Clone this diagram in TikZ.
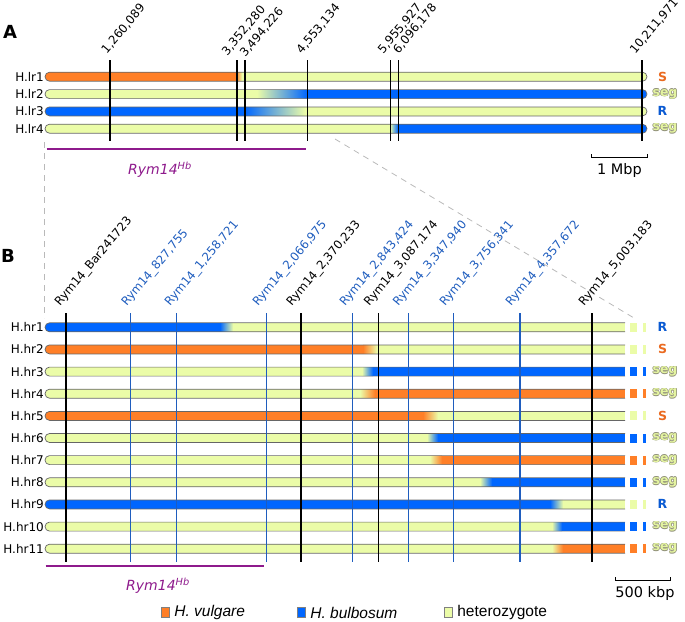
\documentclass[tikz,border=0pt]{standalone}
\usepackage{fontspec}
\setmainfont{DejaVu Sans}
\newfontfamily\legendfont{Liberation Sans}
\usetikzlibrary{positioning}

\definecolor{vulg}{HTML}{FF7F27}
\definecolor{bulb}{HTML}{0066FF}
\definecolor{het}{HTML}{EBFCA8}
\definecolor{mrkblue}{HTML}{1F5DBE}
\definecolor{rympurple}{HTML}{8E1A8C}
\definecolor{seggray}{HTML}{8F8F78}
\definecolor{segfill}{HTML}{E4F4A0}
\definecolor{vulgtext}{HTML}{EA6A20}
\definecolor{bulbtext}{HTML}{0A5AD2}

% outlined "seg" label
\newcommand{\seglabel}{\rlap{\color{seggray}\kern0.6pt seg}\rlap{\color{seggray}\kern-0.6pt seg}\rlap{\color{seggray}\raisebox{0.6pt}{seg}}\rlap{\color{seggray}\raisebox{-0.6pt}{seg}}{\color{segfill}seg}}
\newcommand{\rymHb}{\textit{Rym14\textsuperscript{Hb}}}

\begin{document}
\begin{tikzpicture}[x=1pt,y=-1pt]

    % let's define some key values
    \def\rad{4.5}
    \def\xa{45}
    \def\xeA{647}
    \def\xeB{625}
    \def\xres{662.5}

    % Styles
    \tikzstyle{barline}=[draw=black!60, line width=0.7pt]
    \tikzstyle{rowlbl}=[anchor=east, inner sep=1pt, font=\fontsize{12}{14}\selectfont]
    \tikzstyle{poslbl}=[anchor=west, rotate=50, inner sep=0pt, font=\fontsize{11.8}{14}\selectfont]
    \tikzstyle{resS}=[font=\fontsize{12.5}{14}\selectfont\bfseries, text=vulgtext]
    \tikzstyle{resR}=[font=\fontsize{12.5}{14}\selectfont\bfseries, text=bulbtext]
    \tikzstyle{resseg}=[font=\fontsize{12.5}{14}\selectfont\bfseries, xshift=2.5pt]
    \tikzstyle{zoomline}=[gray!55, dashed, dash pattern=on 6pt off 5pt, line width=0.8pt]
    \tikzstyle{rymline}=[rympurple, line width=1.3pt]
    \tikzstyle{rymlbl}=[text=rympurple, font=\fontsize{14}{16}\selectfont]
    \tikzstyle{scalebar}=[black, line width=1pt]
    \tikzstyle{scalelbl}=[font=\fontsize{14.5}{16}\selectfont]
    \tikzstyle{legbox}=[draw=gray, line width=0.8pt, minimum width=8.5pt, minimum height=10pt, inner sep=0pt]
    \tikzstyle{legtxt}=[inner sep=0pt, font=\legendfont\fontsize{15.5}{17}\selectfont]

    \useasboundingbox (0,0) rectangle (685,621);

    % panel letters
    \node (panelA) at (10,31.5) {\fontsize{18}{20}\selectfont\bfseries A};
    \node (panelB) at (8,256) {\fontsize{18}{20}\selectfont\bfseries B};

    % zoom lines from A to B
    \coordinate (zl1) at (44,142);
    \coordinate (zl2) at (44,318);
    \coordinate (zr1) at (335,139);
    \coordinate (zr2) at (634,318);
    \draw[zoomline] (zl1) -- (zl2);
    \draw[zoomline] (zr1) -- (zr2);

    % panel A bars
    \foreach \yy/\cl/\ta/\tb/\cr/\nm/\rs/\rt in {
        76.7/vulg/236/242/het/lr1/resS/S,
        94.1/het/257/307/bulb/lr2/resseg/\seglabel,
        111.4/bulb/245/305/het/lr3/resR/R,
        128.7/het/390/398/bulb/lr4/resseg/\seglabel}
    {
        \begin{scope}
            \clip[rounded corners=\rad pt] (\xa,\yy-\rad) rectangle (\xeA,\yy+\rad);
            \fill[\cl] (\xa,\yy-\rad) rectangle (\ta,\yy+\rad);
            \shade[left color=\cl, right color=\cr] (\ta,\yy-\rad) rectangle (\tb,\yy+\rad);
            \fill[\cr] (\tb,\yy-\rad) rectangle (\xeA,\yy+\rad);
        \end{scope}
        \draw[barline, rounded corners=\rad pt] (\xa,\yy-\rad) rectangle (\xeA,\yy+\rad);
        \node[rowlbl] (\nm) at (\xa,\yy) {H.\nm};
        \node[\rs] (res\nm) at (\xres,\yy) {\rt};
    }

    % panel A markers (line x / label anchor)
    \foreach \x/\lx/\ly/\lbl [count=\i] in {110/104/52/{1,260,089},
        236.7/224.3/53.8/{3,352,280}, 245/242.3/55.5/{3,494,226},
        307.5/299/52/{4,553,134}, 390.3/380.3/52/{5,955,927},
        398.3/395.6/51.8/{6,096,178}, 641.7/632.3/52.5/{10,211,971}}
    {
        \draw[black, line width=1.6pt] (\x,60) -- (\x,140.7);
        \node[poslbl] (pa\i) at (\lx,\ly) {\lbl};
    }

    % Rym14 interval in A
    \draw[rymline] (46.7,149) -- (305.7,149);
    \node[rymlbl] (rymA) at (160,170) {\rymHb};

    % scale bar A
    \draw[scalebar] (591,154.2) -- (591,157.7) -- (647,157.7) -- (647,154.2);
    \node[scalelbl] (scaleA) at (619.5,170) {1 Mbp};

    % panel B bars
    \foreach \yy/\cl/\ta/\tb/\cr/\nm/\rs/\rt in {
        327.3/bulb/220/233/het/hr1/resR/R,
        349.4/vulg/363/377/het/hr2/resS/S,
        371.6/het/362/373/bulb/hr3/resseg/\seglabel,
        393.7/het/360/375/vulg/hr4/resseg/\seglabel,
        415.9/vulg/423/438/het/hr5/resS/S,
        438.0/het/427/438/bulb/hr6/resseg/\seglabel,
        460.1/het/430/442/vulg/hr7/resseg/\seglabel,
        482.3/het/480/492/bulb/hr8/resseg/\seglabel,
        504.4/bulb/550/563/het/hr9/resR/R,
        526.6/het/552/562/bulb/hr10/resseg/\seglabel,
        548.7/het/552/563/vulg/hr11/resseg/\seglabel}
    {
        \begin{scope}
            \clip (0,\yy-10) rectangle (\xeB,\yy+10);
            \begin{scope}
                \clip[rounded corners=\rad pt] (\xa,\yy-\rad) rectangle (\xeB+10,\yy+\rad);
                \fill[\cl] (\xa,\yy-\rad) rectangle (\ta,\yy+\rad);
                \shade[left color=\cl, right color=\cr] (\ta,\yy-\rad) rectangle (\tb,\yy+\rad);
                \fill[\cr] (\tb,\yy-\rad) rectangle (\xeB,\yy+\rad);
            \end{scope}
            \draw[barline, rounded corners=\rad pt] (\xa,\yy-\rad) rectangle (\xeB+10,\yy+\rad);
        \end{scope}
        % broken end
        \fill[\cr] (630,\yy-\rad) rectangle (637,\yy+\rad);
        \fill[\cr] (643,\yy-\rad) rectangle (646,\yy+\rad);
        \node[rowlbl] (\nm) at (\xa,\yy) {H.\nm};
        \node[\rs] (res\nm) at (\xres,\yy) {\rt};
    }

    % panel B markers (line x / label anchor x)
    \foreach \x/\lx/\lbl/\c [count=\i] in {66/57.7/{Bar241723}/black,
        130.7/124.4/{827,755}/mrkblue, 176.7/167.7/{1,258,721}/mrkblue,
        266.7/255.7/{2,066,975}/mrkblue, 301/289.4/{2,370,233}/black,
        352.7/342.7/{2,843,424}/mrkblue, 378.7/367/{3,087,174}/black,
        408.3/396/{3,347,940}/mrkblue, 453.7/442.7/{3,756,341}/mrkblue,
        520/508.7/{4,357,672}/mrkblue, 592/581.7/{5,003,183}/black}
    {
        \draw[\c, line width=1.4pt] (\x,313) -- (\x,562);
        \node[poslbl, text=\c] (pb\i) at (\lx,305) {Rym14\_\lbl};
    }

    % Rym14 interval in B
    \draw[rymline] (45.7,566) -- (264.3,566);
    \node[rymlbl] (rymB) at (158,586) {\rymHb};

    % scale bar B
    \draw[scalebar] (615,577.2) -- (615,580.7) -- (670,580.7) -- (670,577.2);
    \node[scalelbl] (scaleB) at (645,593) {500 kbp};

    % legend
    \node[legbox, fill=vulg] (kvulg) at (165.5,612.7) {};
    \node[legtxt, right=4pt of kvulg] (tvulg) {\textit{H. vulgare}};
    \node[legbox, fill=bulb] (kbulb) at (301.5,612.7) {};
    \node[legtxt, right=4pt of kbulb] (tbulb) {\textit{H. bulbosum}};
    \node[legbox, fill=het] (khet) at (448.5,612.7) {};
    \node[legtxt, right=4pt of khet] (thet) {heterozygote};

\end{tikzpicture}
\end{document}
